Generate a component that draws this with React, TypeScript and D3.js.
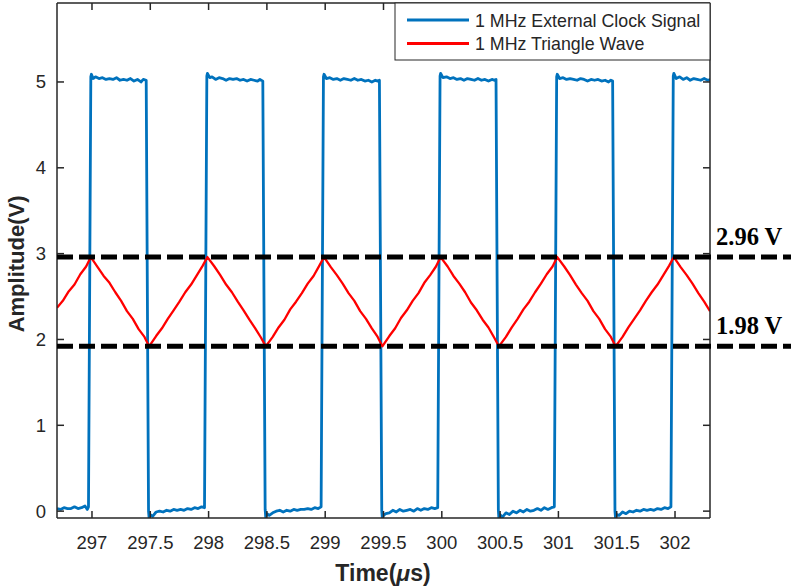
import React from "react";
import * as d3 from "d3";

// ---- data ----
const xTicks = [297, 297.5, 298, 298.5, 299, 299.5, 300, 300.5, 301, 301.5, 302];
const yTicks = [0, 1, 2, 3, 4, 5];
const refLevels = [2.96, 1.92];
const refLabels = ["2.96 V", "1.98 V"];
const seriesNames = ["1 MHz External Clock Signal", "1 MHz Triangle Wave"];

const clockSignal: [number, number][] = [
  [296.70,0.03],[296.73,0.02],[296.76,0.04],[296.79,0.03],[296.82,0.03],[296.85,0.05],[296.88,0.03],[296.91,0.04],[296.94,0.06],[296.96,0.02],[296.97,0.05],
  [296.99,5.06],[296.995,5.09],[297.01,5.04],[297.03,5.06],[297.06,5.04],[297.09,5.05],[297.12,5.03],[297.15,5.04],[297.18,5.03],[297.21,5.05],[297.24,5.02],[297.27,5.03],[297.30,5.02],[297.33,5.04],[297.36,5.01],[297.39,5.03],[297.42,5.00],[297.44,5.03],[297.465,5.02],
  [297.485,0.0],[297.49,-0.08],[297.50,-0.04],[297.52,-0.06],[297.55,-0.01],[297.58,0.0],[297.61,-0.01],[297.64,0.01],[297.67,0.0],[297.70,0.02],[297.73,0.01],[297.76,0.02],[297.79,0.01],[297.82,0.03],[297.85,0.02],[297.88,0.04],[297.91,0.03],[297.94,0.05],[297.965,0.04],
  [297.985,5.07],[297.99,5.10],[298.01,5.05],[298.03,5.06],[298.06,5.03],[298.09,5.05],[298.12,5.04],[298.15,5.02],[298.18,5.04],[298.21,5.03],[298.24,5.04],[298.27,5.02],[298.30,5.03],[298.33,5.01],[298.36,5.03],[298.39,5.02],[298.42,5.01],[298.44,5.03],[298.465,5.01],
  [298.485,0.02],[298.49,-0.07],[298.50,-0.03],[298.52,-0.05],[298.55,-0.02],[298.58,0.0],[298.61,0.01],[298.64,-0.01],[298.67,0.01],[298.70,0.0],[298.73,0.02],[298.76,0.01],[298.79,0.02],[298.82,0.02],[298.85,0.03],[298.88,0.02],[298.91,0.04],[298.94,0.03],[298.965,0.05],
  [298.985,5.06],[298.99,5.09],[299.01,5.04],[299.04,5.05],[299.07,5.03],[299.10,5.04],[299.13,5.02],[299.16,5.04],[299.19,5.03],[299.22,5.02],[299.25,5.04],[299.28,5.02],[299.31,5.03],[299.34,5.01],[299.37,5.02],[299.40,5.00],[299.43,5.02],[299.45,5.01],[299.465,5.02],
  [299.485,0.01],[299.49,-0.08],[299.50,-0.05],[299.52,-0.03],[299.55,-0.02],[299.58,0.01],[299.61,-0.01],[299.64,0.02],[299.67,0.0],[299.70,0.01],[299.73,0.02],[299.76,0.0],[299.79,0.03],[299.82,0.01],[299.85,0.03],[299.88,0.02],[299.91,0.04],[299.94,0.03],[299.965,0.04],
  [299.985,5.07],[299.99,5.10],[300.01,5.05],[300.04,5.06],[300.07,5.04],[300.10,5.05],[300.13,5.03],[300.16,5.04],[300.19,5.02],[300.22,5.04],[300.25,5.03],[300.28,5.02],[300.31,5.04],[300.34,5.02],[300.37,5.03],[300.40,5.01],[300.43,5.03],[300.45,5.02],[300.465,5.03],
  [300.485,0.01],[300.49,-0.09],[300.50,-0.04],[300.52,-0.07],[300.55,-0.02],[300.58,-0.04],[300.61,0.0],[300.64,-0.02],[300.67,0.01],[300.70,-0.01],[300.73,0.02],[300.76,0.0],[300.79,0.01],[300.82,0.03],[300.85,0.01],[300.88,0.04],[300.91,0.02],[300.94,0.04],[300.965,0.05],
  [300.985,5.06],[300.99,5.09],[301.01,5.04],[301.04,5.05],[301.07,5.03],[301.10,5.04],[301.13,5.03],[301.16,5.02],[301.19,5.04],[301.22,5.03],[301.25,5.01],[301.28,5.03],[301.31,5.02],[301.34,5.03],[301.37,5.01],[301.40,5.02],[301.43,5.00],[301.45,5.02],[301.465,5.01],
  [301.485,0.0],[301.49,-0.08],[301.50,-0.04],[301.52,-0.05],[301.55,-0.01],[301.58,-0.03],[301.61,0.0],[301.64,-0.01],[301.67,0.01],[301.70,0.0],[301.73,0.02],[301.76,0.01],[301.79,0.02],[301.82,0.01],[301.85,0.03],[301.88,0.02],[301.91,0.04],[301.94,0.03],[301.965,0.05],
  [301.985,5.07],[301.99,5.10],[302.01,5.04],[302.04,5.06],[302.07,5.03],[302.10,5.05],[302.13,5.02],[302.16,5.04],[302.19,5.03],[302.22,5.02],[302.25,5.04],[302.28,5.02],[302.31,5.03],
];

const triangleWave: [number, number][] = [
  [296.70,2.37],[296.75,2.45],[296.80,2.56],[296.85,2.64],[296.90,2.76],[296.95,2.85],[296.99,2.96],
  [297.05,2.84],[297.10,2.74],[297.15,2.66],[297.20,2.55],[297.25,2.45],[297.30,2.33],[297.35,2.24],[297.40,2.12],[297.45,2.03],[297.49,1.92],
  [297.55,2.04],[297.60,2.13],[297.65,2.24],[297.70,2.34],[297.75,2.44],[297.80,2.55],[297.85,2.64],[297.90,2.75],[297.95,2.86],[297.99,2.96],
  [298.05,2.85],[298.10,2.75],[298.15,2.64],[298.20,2.55],[298.25,2.44],[298.30,2.34],[298.35,2.23],[298.40,2.13],[298.45,2.02],[298.49,1.92],
  [298.55,2.03],[298.60,2.14],[298.65,2.23],[298.70,2.35],[298.75,2.44],[298.80,2.54],[298.85,2.65],[298.90,2.74],[298.95,2.86],[298.99,2.96],
  [299.05,2.84],[299.10,2.75],[299.15,2.65],[299.20,2.54],[299.25,2.45],[299.30,2.33],[299.35,2.24],[299.40,2.13],[299.45,2.03],[299.49,1.92],
  [299.55,2.04],[299.60,2.13],[299.65,2.25],[299.70,2.34],[299.75,2.45],[299.80,2.54],[299.85,2.66],[299.90,2.75],[299.95,2.85],[299.99,2.96],
  [300.05,2.85],[300.10,2.74],[300.15,2.65],[300.20,2.55],[300.25,2.43],[300.30,2.34],[300.35,2.23],[300.40,2.14],[300.45,2.02],[300.49,1.92],
  [300.55,2.03],[300.60,2.14],[300.65,2.24],[300.70,2.35],[300.75,2.44],[300.80,2.55],[300.85,2.65],[300.90,2.76],[300.95,2.85],[300.99,2.96],
  [301.05,2.85],[301.10,2.75],[301.15,2.64],[301.20,2.54],[301.25,2.45],[301.30,2.33],[301.35,2.24],[301.40,2.12],[301.45,2.03],[301.49,1.92],
  [301.55,2.03],[301.60,2.14],[301.65,2.24],[301.70,2.34],[301.75,2.45],[301.80,2.55],[301.85,2.64],[301.90,2.75],[301.95,2.86],[301.99,2.96],
  [302.05,2.84],[302.10,2.75],[302.15,2.65],[302.20,2.54],[302.25,2.44],[302.30,2.33],
];

const W = 791, H = 586;
const M = { left: 57, right: 710, top: 3, bottom: 518 };
const AX = "#262626";
const BLUE = "#0072BD";
const RED = "#FF0000";
const SANS = "'Liberation Sans', Arial, sans-serif";
const SERIF = "'Liberation Serif', 'Times New Roman', serif";

export default function App() {
  const x = d3.scaleLinear().domain([296.7, 302.3]).range([M.left, M.right]);
  const y = d3.scaleLinear().domain([-0.08, 5.92]).range([M.bottom, M.top]);
  const line = d3.line<[number, number]>().x(d => x(d[0])).y(d => y(d[1]));
  const tick = 7;
  return (
    <svg width={W} height={H} style={{ position: "fixed", left: 0, top: 0, background: "#fff" }}
      fontFamily={SANS}>
      <defs>
        <clipPath id="plot">
          <rect x={M.left} y={M.top} width={M.right - M.left} height={M.bottom - M.top} />
        </clipPath>
      </defs>
      <rect x={0} y={0} width={W} height={H} fill="#fff" />
      <g clipPath="url(#plot)">
        <path d={line(clockSignal) || ""} fill="none" stroke={BLUE} strokeWidth={2.8} strokeLinejoin="round" />
        <path d={line(triangleWave) || ""} fill="none" stroke={RED} strokeWidth={2.3} strokeLinejoin="round" />
      </g>
      {/* axes box */}
      <g stroke={AX} strokeWidth={1.5} fill="none">
        <line x1={M.left} x2={M.right} y1={M.bottom} y2={M.bottom} />
        <line x1={M.left} x2={M.right} y1={M.top} y2={M.top} />
        <line x1={M.left} x2={M.left} y1={M.top} y2={M.bottom} />
        <line x1={M.right} x2={M.right} y1={M.top} y2={M.bottom} />
        {xTicks.map(t => (
          <g key={"xt" + t}>
            <line x1={x(t)} x2={x(t)} y1={M.bottom} y2={M.bottom - tick} />
            <line x1={x(t)} x2={x(t)} y1={M.top} y2={M.top + tick} />
          </g>
        ))}
        {yTicks.map(t => (
          <g key={"yt" + t}>
            <line x1={M.left} x2={M.left + tick} y1={y(t)} y2={y(t)} />
            <line x1={M.right} x2={M.right - tick} y1={y(t)} y2={y(t)} />
          </g>
        ))}
      </g>
      {xTicks.map(t => (
        <text key={"xl" + t} x={x(t)} y={549} textAnchor="middle" fontSize={18.5} fill={AX}>{t}</text>
      ))}
      {yTicks.map(t => (
        <text key={"yl" + t} x={46} y={y(t) + 6.5} textAnchor="end" fontSize={18.5} fill={AX}>{t}</text>
      ))}
      {/* reference dashed lines */}
      {refLevels.map((v, i) => (
        <g key={"ref" + i}>
          <line x1={M.left} x2={W} y1={y(v)} y2={y(v)} stroke="#000" strokeWidth={5} strokeDasharray="16 6" />
          <text x={716} y={y(v) - 12} fontFamily={SERIF} fontWeight="bold" fontSize={24.5} fill="#000">{refLabels[i]}</text>
        </g>
      ))}
      {/* axis labels */}
      <text x={383} y={581} textAnchor="middle" fontWeight="bold" fontSize={23} fill={AX}>
        Time(<tspan fontStyle="italic">μ</tspan>s)
      </text>
      <text transform={`translate(24,${y(2.88)}) rotate(-90)`} textAnchor="middle" fontWeight="bold" fontSize={22} fill={AX}>
        Amplitude(V)
      </text>
      {/* legend */}
      <g>
        <rect x={395} y={M.top} width={M.right - 395} height={57} fill="#fff" stroke={AX} strokeWidth={1} />
        {seriesNames.map((n, i) => (
          <g key={n}>
            <line x1={407} x2={469} y1={20 + i * 23.5} y2={20 + i * 23.5} stroke={i === 0 ? BLUE : RED} strokeWidth={3} />
            <text x={475} y={20 + i * 23.5 + 6.5} fontSize={17.8} fill={AX}>{n}</text>
          </g>
        ))}
      </g>
    </svg>
  );
}
